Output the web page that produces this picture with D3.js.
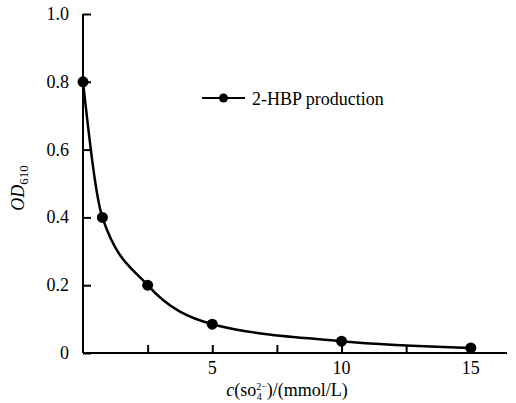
<!DOCTYPE html>
<html>
<head>
<meta charset="utf-8">
<script src="https://cdn.jsdelivr.net/npm/d3@7"></script>
</head>
<body style="margin:0">
<div id="chart"></div>
<script>
const concValues = [0, 0.75, 2.5, 5, 10, 15];
const odValues = [0.8, 0.4, 0.2, 0.085, 0.035, 0.015];
const xTicks = [2.5, 5, 7.5, 10, 12.5, 15];
const xTickLabels = ["", "5", "", "10", "", "15"];
const yTicks = [0, 0.2, 0.4, 0.6, 0.8, 1.0];
const yTickLabels = ["0", "0.2", "0.4", "0.6", "0.8", "1.0"];
const seriesName = "2-HBP production";

const data = concValues.map((c, i) => ({ c: c, od: odValues[i] }));

const width = 516, height = 403;
const margin = { top: 14, right: 9, bottom: 50, left: 83 };
const serif = '"Liberation Serif"';

const svg = d3.select("#chart").append("svg")
  .attr("width", width)
  .attr("height", height);

const x = d3.scaleLinear().domain([0, 16.4]).range([margin.left, width - margin.right]);
const y = d3.scaleLinear().domain([0, 1]).range([height - margin.bottom, margin.top]);

// axes, ticks point inward (labels drawn separately below)
const gx = svg.append("g")
  .attr("transform", `translate(0,${y(0)})`)
  .call(d3.axisTop(x).tickValues(xTicks).tickSize(8));
gx.attr("font-family", null).attr("font-size", null);
gx.selectAll("text").remove();
gx.select(".domain").attr("d", `M${x(0)},0H${x(16.4)}`);
gx.selectAll("line, path").attr("stroke", "#000").attr("stroke-width", 2);

const gy = svg.append("g")
  .attr("transform", `translate(${x(0)},0)`)
  .call(d3.axisRight(y).tickValues(yTicks).tickSize(8));
gy.attr("font-family", null).attr("font-size", null);
gy.selectAll("text").remove();
gy.select(".domain").attr("d", `M0,${y(1)}V${y(0)}`);
gy.selectAll("line, path").attr("stroke", "#000").attr("stroke-width", 2);

svg.selectAll(".xlab")
  .data(xTicks)
  .enter()
  .append("text")
  .attr("class", "xlab")
  .attr("x", (d) => x(d))
  .attr("y", y(0) + 21)
  .style("font-family", serif)
  .attr("font-size", 18)
  .attr("text-anchor", "middle")
  .text((d, i) => xTickLabels[i]);

svg.selectAll(".ylab")
  .data(yTicks)
  .enter()
  .append("text")
  .attr("class", "ylab")
  .attr("x", x(0) - 14)
  .attr("y", (d) => y(d) + 6)
  .style("font-family", serif)
  .attr("font-size", 18)
  .attr("text-anchor", "end")
  .text((d, i) => yTickLabels[i]);

// curve
const line = d3.line()
  .x((d) => x(d.c))
  .y((d) => y(d.od))
  .curve(d3.curveMonotoneX);

svg.append("path")
  .datum(data)
  .attr("fill", "none")
  .attr("stroke", "#000")
  .attr("stroke-width", 2.5)
  .attr("d", line);

svg.selectAll(".dot")
  .data(data)
  .enter()
  .append("circle")
  .attr("class", "dot")
  .attr("cx", (d) => x(d.c))
  .attr("cy", (d) => y(d.od))
  .attr("r", 5.5)
  .attr("fill", "#000");

// legend
const legend = svg.append("g").attr("transform", "translate(202,98)");
legend.append("line")
  .attr("x1", 0).attr("x2", 43)
  .attr("stroke", "#000").attr("stroke-width", 2);
legend.append("circle").attr("cx", 21.5).attr("r", 4.5).attr("fill", "#000");
legend.append("text")
  .attr("x", 50).attr("y", 7)
  .style("font-family", serif)
  .attr("font-size", 18)
  .text(seriesName);

// axis titles
const xt = svg.append("text")
  .attr("x", 287).attr("y", 396)
  .style("font-family", serif)
  .attr("font-size", 18)
  .attr("text-anchor", "middle");
xt.append("tspan").attr("font-style", "italic").text("c");
xt.append("tspan").text("(so");
xt.append("tspan").attr("font-size", 10).attr("dy", -6).text("2\u2212");
xt.append("tspan").attr("font-size", 10).attr("dx", -10).attr("dy", 10).text("4");
xt.append("tspan").attr("dy", -4).attr("dx", 5).text(")/(mmol/L)");

const yt = svg.append("text")
  .attr("transform", "translate(24,188) rotate(-90)")
  .style("font-family", serif)
  .attr("font-size", 18)
  .attr("text-anchor", "middle");
yt.append("tspan").attr("font-style", "italic").text("OD");
yt.append("tspan").attr("font-size", 13).attr("dy", 4).text("610");
</script>
</body>
</html>
